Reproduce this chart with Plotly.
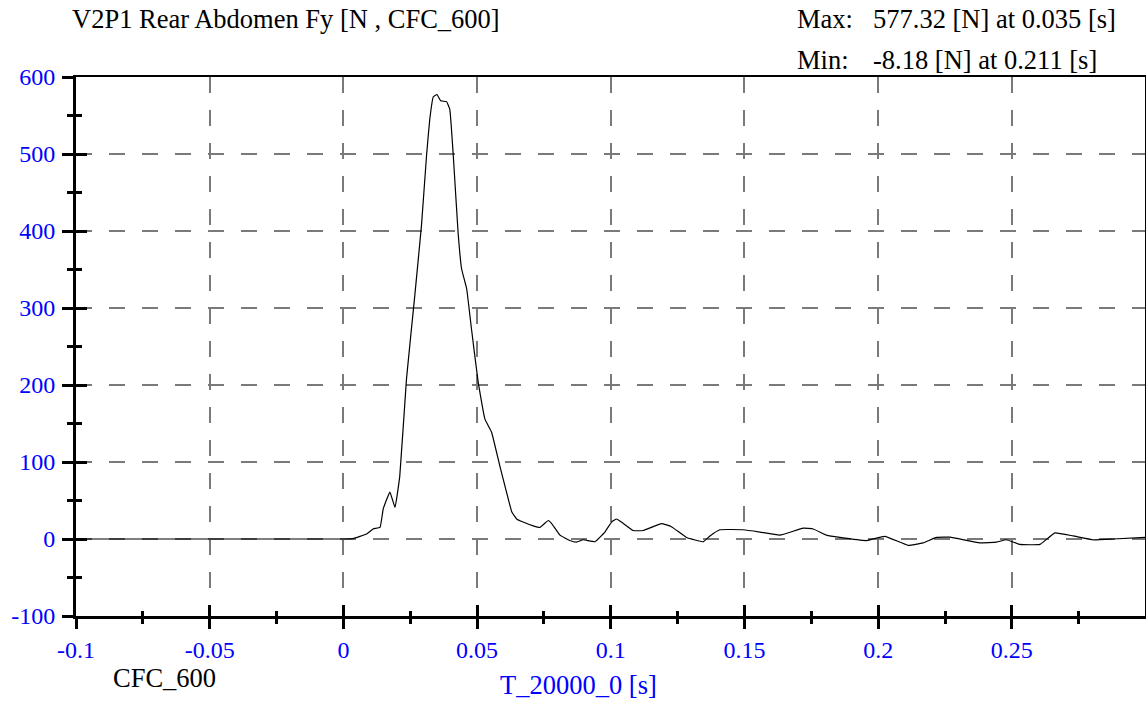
import plotly.graph_objects as go

# ---- data ----
time_s = [-0.1, 0.0, 0.0036, 0.0087, 0.0111, 0.0137, 0.0149, 0.0174, 0.0193, 0.0211,
          0.0236, 0.0267, 0.0292, 0.0311, 0.0323, 0.0336, 0.0350, 0.0364, 0.0386, 0.0398,
          0.0411, 0.0429, 0.0442, 0.0461, 0.0479, 0.0504, 0.0529, 0.0554, 0.0585, 0.0610,
          0.0630, 0.0648, 0.0672, 0.0710, 0.0735, 0.0766, 0.0779, 0.0810, 0.0847, 0.0872,
          0.0897, 0.0941, 0.0978, 0.1003, 0.1022, 0.1040, 0.1084, 0.1121, 0.1190, 0.1227,
          0.1284, 0.1346, 0.1371, 0.1408, 0.1495, 0.1558, 0.1632, 0.1720, 0.1757, 0.1807,
          0.1857, 0.1957, 0.2025, 0.2112, 0.2168, 0.2218, 0.2268, 0.2380, 0.2443, 0.2480,
          0.2530, 0.2605, 0.2661, 0.2729, 0.2804, 0.2879, 0.2998]
force_n = [0, 0, 0.5, 6.5, 13, 15, 39, 61, 41, 82,
           208, 316, 407, 498, 545, 574, 577.3, 569, 568, 558,
           498, 398, 351, 325, 273, 204, 156, 139, 95, 61,
           35, 26, 22, 17, 15, 24, 20, 5, -2, -4,
           -1, -3.5, 9, 22, 26, 22, 11, 11, 20, 16,
           2, -3.5, 4, 12, 12, 9, 5, 14, 13, 5,
           2, -2, 3.5, -8.2, -5, 2, 2.5, -5, -4, -1,
           -7, -7, 8, 4, -1, 0, 2]

x_range = [-0.1, 0.2998]
y_range = [-100, 600]
x_tick_vals = [-0.1, -0.05, 0, 0.05, 0.1, 0.15, 0.2, 0.25]
x_tick_text = ["-0.1", "-0.05", "0", "0.05", "0.1", "0.15", "0.2", "0.25"]
y_tick_vals = [-100, 0, 100, 200, 300, 400, 500, 600]
y_tick_text = ["-100", "0", "100", "200", "300", "400", "500", "600"]

title_text = "V2P1 Rear Abdomen Fy [N , CFC_600]"
max_label, max_text = "Max:", "577.32 [N] at 0.035 [s]"
min_label, min_text = "Min:", "-8.18 [N] at 0.211 [s]"
filter_text = "CFC_600"
x_title = "T_20000_0 [s]"

FONT = "Liberation Serif, Times New Roman, serif"
BLUE = "#0000ff"
TICK_SIZE = 24
TEXT_SIZE = 26.5

fig = go.Figure()
fig.add_trace(go.Scatter(x=time_s, y=force_n, mode="lines",
                         line=dict(color="black", width=1.2, shape="spline", smoothing=0.3),
                         showlegend=False, hoverinfo="skip"))
# invisible traces to activate the overlay axes
fig.add_trace(go.Scatter(x=[x_range[0]], y=[y_range[0]], xaxis="x2", yaxis="y2",
                         mode="markers", marker=dict(opacity=0), showlegend=False, hoverinfo="skip"))
fig.add_trace(go.Scatter(x=[x_range[0]], y=[y_range[0]], xaxis="x3", yaxis="y3",
                         mode="markers", marker=dict(opacity=0), showlegend=False, hoverinfo="skip"))

W, H = 1146, 702
L, R, T, B = 76, 1, 77, 86
pw, ph = W - L - R, H - T - B

def px(xp):
    return (xp - L) / pw

def py(yp):
    return (H - B - yp) / ph

grid = dict(showgrid=True, gridcolor="#7a7a7a", gridwidth=1.5, griddash="16px,17px")
tickfont = dict(color=BLUE, size=TICK_SIZE, family=FONT)

fig.update_layout(
    width=W, height=H,
    margin=dict(l=L, r=R, t=T, b=B, autoexpand=False),
    paper_bgcolor="white", plot_bgcolor="white",
    font=dict(family=FONT, size=TEXT_SIZE, color="black"),
    xaxis=dict(range=x_range, tickmode="array", tickvals=x_tick_vals, ticktext=x_tick_text,
               showline=True, linecolor="black", linewidth=3,
               ticks="outside", ticklen=10, tickwidth=2.5, tickcolor="black", ticklabelstandoff=0,
               minor=dict(ticks="outside", ticklen=5, tickwidth=2.5, tickcolor="black",
                          tickmode="linear", tick0=0, dtick=0.025, showgrid=False),
               tickfont=tickfont, zeroline=False, **grid),
    yaxis=dict(range=y_range, tickmode="array", tickvals=y_tick_vals, ticktext=y_tick_text,
               showline=True, linecolor="black", linewidth=3,
               ticks="outside", ticklen=11, tickwidth=2.5, tickcolor="black", ticklabelstandoff=2,
               minor=dict(ticks="outside", ticklen=6, tickwidth=2.5, tickcolor="black",
                          tickmode="linear", tick0=0, dtick=50, showgrid=False),
               tickfont=tickfont, zeroline=False, **grid),
    xaxis2=dict(range=x_range, overlaying="x", side="top", anchor="y", showline=True, linecolor="black",
                linewidth=2, showgrid=False, zeroline=False, showticklabels=False, ticks=""),
    yaxis2=dict(range=y_range, overlaying="y", side="right", anchor="x", showline=True, linecolor="black",
                linewidth=1, showgrid=False, zeroline=False, showticklabels=False, ticks=""),
    xaxis3=dict(range=x_range, overlaying="x", side="bottom", anchor="y", tickmode="array",
                tickvals=x_tick_vals, ticks="inside", ticklen=11, tickwidth=2.5, tickcolor="black",
                minor=dict(ticks="inside", ticklen=5, tickwidth=2.5, tickcolor="black",
                           tickmode="linear", tick0=0, dtick=0.025, showgrid=False),
                showgrid=False, zeroline=False, showticklabels=False, showline=False),
    yaxis3=dict(range=y_range, overlaying="y", side="left", anchor="x", tickmode="array",
                tickvals=y_tick_vals, ticks="inside", ticklen=11, tickwidth=2.5, tickcolor="black",
                minor=dict(ticks="inside", ticklen=6, tickwidth=2.5, tickcolor="black",
                           tickmode="linear", tick0=0, dtick=50, showgrid=False),
                showgrid=False, zeroline=False, showticklabels=False, showline=False),
)

def ann(text, xp, yp, xanchor="left", color="black"):
    fig.add_annotation(text=text, xref="paper", yref="paper", x=px(xp), y=py(yp),
                       xanchor=xanchor, yanchor="middle", showarrow=False,
                       font=dict(family=FONT, size=TEXT_SIZE, color=color))

ann(title_text, 70, 19)
ann(max_label, 795, 19)
ann(max_text, 871, 19)
ann(min_label, 795, 60)
ann(min_text, 871, 60)
ann(filter_text, 111, 678)
ann(x_title, 578, 685, xanchor="center", color=BLUE)

fig.write_html("out.html", config={"displayModeBar": False},
               post_script="document.body.style.margin='0';document.body.style.overflow='hidden';")
